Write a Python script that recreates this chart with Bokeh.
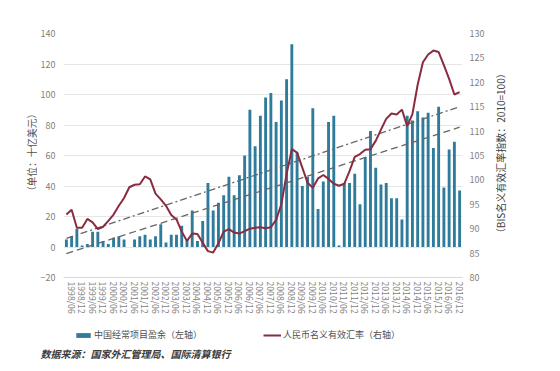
import math
from bokeh.plotting import figure
from bokeh.layouts import column, row
from bokeh.models import (Range1d, LinearAxis, FixedTicker, Legend, LegendItem,
                          ColumnDataSource)
from bokeh.core.properties import value
from bokeh.embed import file_html
from bokeh.resources import INLINE

# ---------------- data ----------------
quarters = []
for yr in range(1998, 2017):
    for m in ("03", "06", "09", "12"):
        quarters.append(f"{yr}/{m}")

current_account = [5, 7, 12, 1, 2, 10, 10, 4, 2, 6, 7, 5, 0, 5, 7, 8, 5, 7, 15, 3,
                   8, 8, 14, 5, 24, 4, 17, 42, 24, 29, 34, 46, 34, 47, 60, 90, 66, 86, 98, 101,
                   82, 96, 110, 133, 62, 40, 46, 91, 25, 43, 82, 86, 1, 42, 42, 48, 28, 59, 76, 52,
                   41, 42, 32, 32, 18, 86, 83, 89, 85, 88, 65, 92, 39, 64, 69, 37]

neer = [92.9, 93.9, 90.2, 90.2, 92.0, 91.3, 89.9, 90.4, 91.6, 92.9,
        94.7, 96.3, 98.5, 99.0, 99.1, 100.7, 100.1, 97.2, 96.0, 94.7,
        92.8, 91.9, 89.4, 87.5, 89.0, 88.9, 87.1, 85.4, 85.1, 87.0,
        89.4, 89.9, 89.2, 89.0, 89.5, 90.0, 90.2, 90.3, 90.1, 90.3,
        91.8, 95.0, 101.2, 106.3, 105.6, 102.5, 99.4, 98.4, 100.3, 101.0,
        100.2, 99.2, 98.8, 99.2, 101.8, 104.7, 105.3, 106.2, 106.3, 108.0,
        110.3, 112.5, 113.6, 113.4, 114.4, 111.0, 113.5, 119.5, 124.1, 125.7,
        126.5, 126.2, 123.5, 120.7, 117.5, 118.0]

trend_upper = [88.0, 115.0]
trend_lower = [84.9, 110.8]

left_ticks = [-20, 0, 20, 40, 60, 80, 100, 120, 140]
right_ticks = [80, 85, 90, 95, 100, 105, 110, 115, 120, 125, 130]

bar_label = "中国经常项目盈余（左轴）"
line_label = "人民币名义有效汇率（右轴）"
left_title = "（单位：十亿美元）"
right_title = "（BIS名义有效汇率指数：2010=100）"
source_text = "数据来源：国家外汇管理局、国际清算银行"

# ---------------- main figure ----------------
FONT = "Noto Sans CJK SC"
GRAY = "#7f7f7f"
TXT = "#505050"
BAR = "#2f7b9b"
LINE = "#8a2c40"
H = 324

idx = list(range(len(quarters)))
n = len(quarters)

p = figure(width=451, height=H, output_backend="svg", toolbar_location=None,
           x_range=Range1d(-0.55, n - 0.45), y_range=Range1d(-20, 140),
           min_border_left=26, min_border_right=26, min_border_top=33,
           min_border_bottom=47)
p.outline_line_color = None
p.extra_y_ranges = {"neer": Range1d(80, 130)}

p.xgrid.grid_line_color = None
p.ygrid.grid_line_color = "#e6e6e6"
p.ygrid.ticker = FixedTicker(ticks=left_ticks)

src = ColumnDataSource(dict(x=idx, ca=current_account, neer=neer))
p.vbar(x="x", top="ca", width=0.55, bottom=0, source=src,
       fill_color=BAR, line_color=None)

tx = [idx[0], idx[-1]]
p.line(tx, trend_upper, y_range_name="neer", line_color="#666666",
       line_width=1.3, line_dash="7 3 2 3")
p.line(tx, trend_lower, y_range_name="neer", line_color="#666666",
       line_width=1.3, line_dash="7 4")

p.line("x", "neer", source=src, y_range_name="neer",
       line_color=LINE, line_width=2)

p.yaxis.ticker = FixedTicker(ticks=left_ticks)
p.yaxis.axis_line_color = None
p.yaxis.major_tick_line_color = None
p.yaxis.minor_tick_line_color = None
p.yaxis.major_tick_out = 0
p.yaxis.major_label_standoff = 8
p.yaxis.major_label_text_font = FONT
p.yaxis.major_label_text_font_size = "9px"
p.yaxis.major_label_text_color = GRAY

ra = LinearAxis(y_range_name="neer", ticker=FixedTicker(ticks=right_ticks))
ra.axis_line_color = None
ra.major_tick_line_color = None
ra.minor_tick_line_color = None
ra.major_tick_out = 0
ra.major_label_text_font = FONT
ra.major_label_text_font_size = "9px"
ra.major_label_text_color = GRAY
ra.major_label_standoff = 7
p.add_layout(ra, "right")

tick_pos = idx[1::2]
p.xaxis.ticker = FixedTicker(ticks=tick_pos)
p.xaxis.major_label_overrides = {i: quarters[i] for i in tick_pos}
p.xaxis.major_label_orientation = "vertical"
p.xaxis.axis_line_color = "#d9d9d9"
p.xaxis.major_tick_line_color = None
p.xaxis.minor_tick_line_color = None
p.xaxis.major_tick_out = 0
p.xaxis.major_label_text_font = FONT
p.xaxis.major_label_text_font_size = "6.5pt"
p.xaxis.major_label_text_color = GRAY
p.xaxis.major_label_standoff = 4


def strip(width, height):
    f = figure(width=width, height=height, output_backend="svg",
               toolbar_location=None,
               x_range=Range1d(0, width), y_range=Range1d(0, height),
               x_axis_location=None, y_axis_location=None,
               min_border_left=0, min_border_right=0, min_border_top=0,
               min_border_bottom=0)
    f.outline_line_color = None
    f.grid.visible = False
    return f


# ---------------- axis-title strips ----------------
p4 = strip(37, H)
p4.text(x=[31], y=[H - 158], text=[left_title], angle=math.pi / 2,
        text_font=value(FONT), text_font_size="9.7px", text_color=TXT,
        text_align="center", text_baseline="middle")

p3 = strip(64, H)
p3.text(x=[12], y=[H - 159], text=[right_title], angle=math.pi / 2,
        text_font=value(FONT), text_font_size="10px", text_color="#404040",
        text_align="center", text_baseline="middle")

# ---------------- legend / source strip ----------------
p2 = strip(552, 47)
r_bar = p2.vbar(x=[-1000], top=[0], width=1, fill_color=BAR, line_color=None)
r_line = p2.line(x=[-1000, -999], y=[0, 0], line_color=LINE, line_width=2)

legend = Legend(items=[LegendItem(label=bar_label, renderers=[r_bar]),
                       LegendItem(label=line_label, renderers=[r_line])],
                orientation="horizontal", location=(74, 30),
                glyph_width=18, glyph_height=6, spacing=61,
                label_text_font=FONT, label_text_font_size="9px",
                label_text_color=TXT, border_line_color=None,
                background_fill_alpha=0, padding=2, margin=0,
                label_standoff=2, label_height=10)
p2.add_layout(legend, "center")

p2.text(x=[40], y=[18], text=[source_text], text_font=value(FONT),
        text_font_style="bold italic", text_font_size="10px",
        text_color="#3a3a3a", text_baseline="middle")

layout = column(row(p4, p, p3, spacing=0), p2, spacing=0)
open("out.html", "w").write(file_html(layout, INLINE))
